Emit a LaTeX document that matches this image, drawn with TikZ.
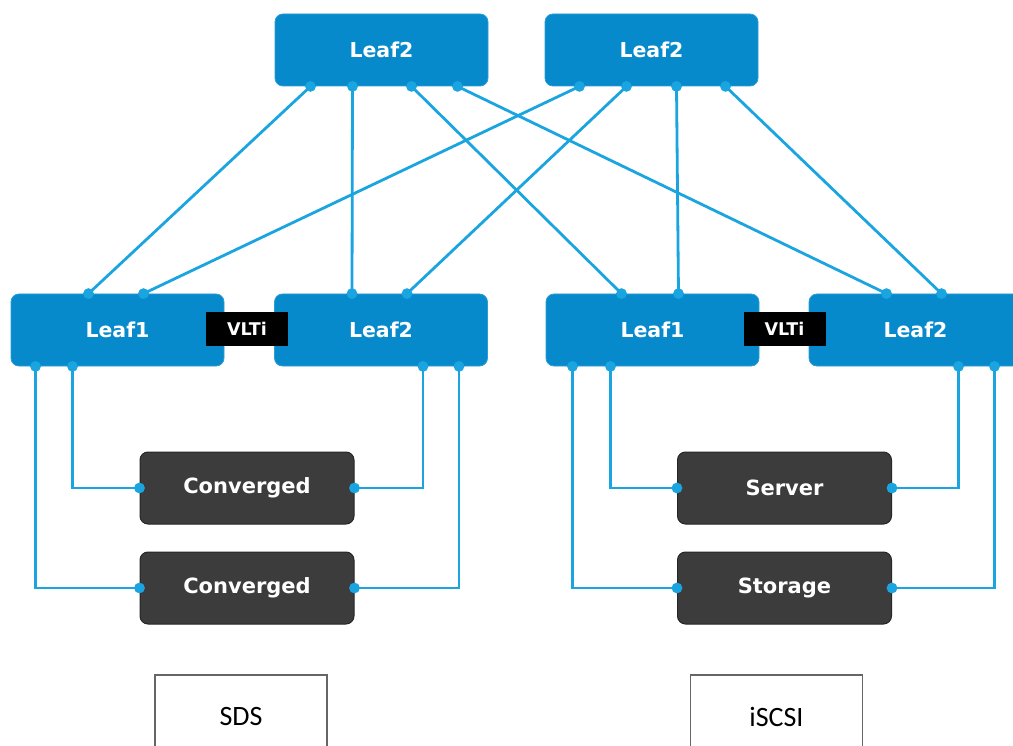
\documentclass[tikz,border=0pt]{standalone}
\usepackage{fontspec}
\setmainfont{DejaVu Sans}
\newfontfamily\capfont{Carlito}
\usetikzlibrary{calc}
\definecolor{leafblue}{RGB}{6,138,204}
\definecolor{linkblue}{RGB}{26,164,224}
\definecolor{hostgray}{RGB}{60,60,60}
\begin{document}
\begin{tikzpicture}[x=1pt,y=-1pt,
  leaf/.style={fill=leafblue, draw=leafblue!85!white, line width=0.8pt, rounded corners=8pt,
    minimum width=213pt, minimum height=72pt, inner sep=0pt, text=white,
    font=\bfseries\fontsize{20.5}{24}\selectfont},
  host/.style={fill=hostgray, draw=black!85, line width=1pt, rounded corners=8pt,
    minimum width=214pt, minimum height=72pt, inner sep=0pt, text=white,
    font=\bfseries\fontsize{21}{24}\selectfont},
  vlti/.style={fill=black, minimum width=82pt, minimum height=34pt, inner sep=0pt,
    text=white, font=\bfseries\fontsize{17.5}{20}\selectfont},
  tag/.style={draw=black!60, line width=1.2pt, fill=white, minimum width=172pt,
    minimum height=84pt, inner sep=0pt, font=\capfont\fontsize{28}{30}\selectfont},
  link/.style={draw=linkblue, line width=2.8pt},
  dot/.style={fill=linkblue}]
\useasboundingbox (0,0) rectangle (1013,746);

% spine-facing leaves
\node[leaf] (tA) at (381.5,50) {Leaf2};
\node[leaf] (tB) at (651.5,50) {Leaf2};

% leaf pairs
\node[leaf] (lA1) at (117.5,330) {Leaf1};
\node[leaf] (lA2) at (381,330) {Leaf2};
\node[leaf] (lB1) at (652.5,330) {Leaf1};
\node[leaf] (lB2) at (915.5,330) {Leaf2};
\node[vlti] (vA) at (247,329) {VLTi};
\node[vlti] (vB) at (784.5,329) {VLTi};

% hosts
\node[host] (c1) at (247,488) {Converged};
\node[host] (c2) at (247,588) {Converged};
\node[host] (sv) at (784.5,488) {Server};
\node[host] (st) at (784.5,588) {Storage};

% group labels
\node[tag] (sds) at (241,717) {SDS};
\node[tag] (isc) at (776.5,717) {iSCSI};

% ports on the upper leaves
\coordinate (tA1) at ([xshift=-71pt]tA.south);
\coordinate (tA2) at ([xshift=-29pt]tA.south);
\coordinate (tA3) at ([xshift=30pt]tA.south);
\coordinate (tA4) at ([xshift=76pt]tA.south);
\coordinate (tB1) at ([xshift=-72pt]tB.south);
\coordinate (tB2) at ([xshift=-25pt]tB.south);
\coordinate (tB3) at ([xshift=25pt]tB.south);
\coordinate (tB4) at ([xshift=74pt]tB.south);

% uplink ports on the leaf pairs
\coordinate (lA1u) at ([xshift=-29pt]lA1.north);
\coordinate (lA1v) at ([xshift=26pt]lA1.north);
\coordinate (lA2u) at ([xshift=-29pt]lA2.north);
\coordinate (lA2v) at ([xshift=26pt]lA2.north);
\coordinate (lB1u) at ([xshift=-31pt]lB1.north);
\coordinate (lB1v) at ([xshift=26pt]lB1.north);
\coordinate (lB2u) at ([xshift=-29pt]lB2.north);
\coordinate (lB2v) at ([xshift=26pt]lB2.north);

% downlink ports on the leaf pairs
\coordinate (lA1a) at ([xshift=-82pt]lA1.south);
\coordinate (lA1b) at ([xshift=-45pt]lA1.south);
\coordinate (lA2a) at ([xshift=42pt]lA2.south);
\coordinate (lA2b) at ([xshift=78pt]lA2.south);
\coordinate (lB1a) at ([xshift=-80pt]lB1.south);
\coordinate (lB1b) at ([xshift=-42pt]lB1.south);
\coordinate (lB2a) at ([xshift=43pt]lB2.south);
\coordinate (lB2b) at ([xshift=79pt]lB2.south);

% uplinks
\draw[link] (tA1) -- (lA1u);
\draw[link] (tA2) -- (lA2u);
\draw[link] (tA3) -- (lB1u);
\draw[link] (tA4) -- (lB2u);
\draw[link] (tB1) -- (lA1v);
\draw[link] (tB2) -- (lA2v);
\draw[link] (tB3) -- (lB1v);
\draw[link] (tB4) -- (lB2v);

% host links
\draw[link] (lA1b) |- (c1.west);
\draw[link] (lA1a) |- (c2.west);
\draw[link] (lA2a) |- (c1.east);
\draw[link] (lA2b) |- (c2.east);
\draw[link] (lB1b) |- (sv.west);
\draw[link] (lB1a) |- (st.west);
\draw[link] (lB2a) |- (sv.east);
\draw[link] (lB2b) |- (st.east);

% port dots
\foreach \p in {tA1,tA2,tA3,tA4,tB1,tB2,tB3,tB4,
                lA1u,lA1v,lA2u,lA2v,lB1u,lB1v,lB2u,lB2v,
                lA1a,lA1b,lA2a,lA2b,lB1a,lB1b,lB2a,lB2b}
  \fill[dot] (\p) circle (5.4pt);
\foreach \n in {c1,c2,sv,st}{
  \fill[dot] (\n.west) circle (5.4pt);
  \fill[dot] (\n.east) circle (5.4pt);
}
\end{tikzpicture}
\end{document}
